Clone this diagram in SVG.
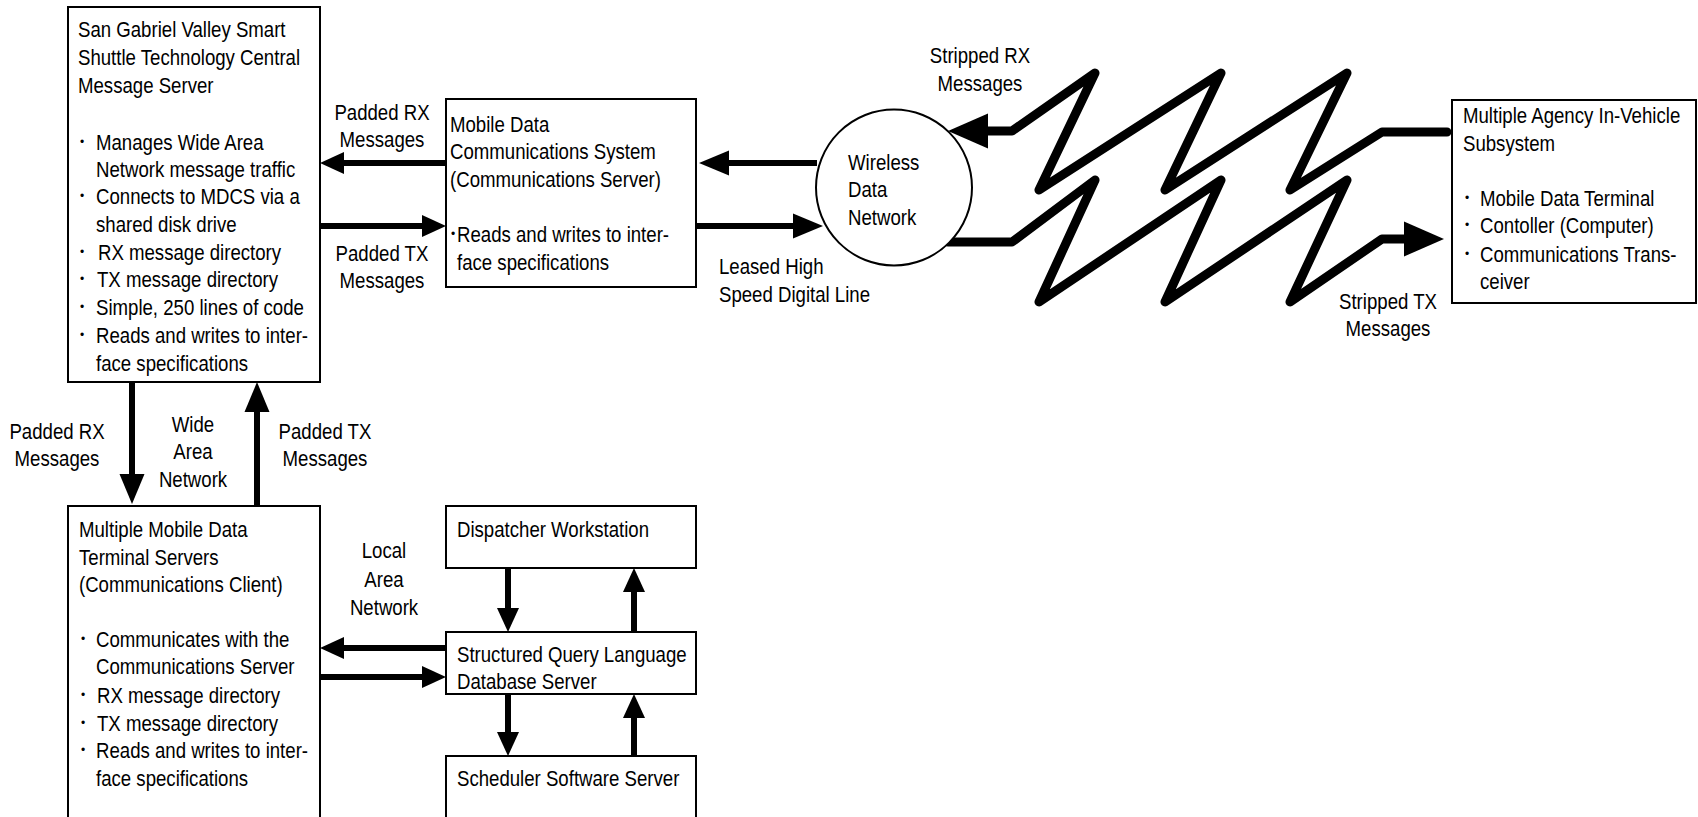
<svg xmlns="http://www.w3.org/2000/svg" width="1698" height="817" viewBox="0 0 1698 817">
<style>
.t{font-family:"Liberation Sans",Arial,sans-serif;font-size:23px;fill:#000;transform-box:fill-box;transform-origin:0% 50%;transform:scaleX(0.81)}
.c{text-anchor:middle;transform-origin:50% 50%}
.b{font-family:"Liberation Sans",Arial,sans-serif;font-size:12px;fill:#000;text-anchor:middle}
.box{fill:#fff;stroke:#000;stroke-width:2}
.ln{fill:none;stroke:#000;stroke-width:6}
.bolt{fill:none;stroke:#000;stroke-width:9;stroke-linejoin:round;stroke-linecap:round}
</style>
<defs>
<marker id="ah" markerUnits="userSpaceOnUse" markerWidth="24" markerHeight="24" refX="0" refY="11" orient="auto" viewBox="0 0 24 22"><path d="M0,0 L24,11 L0,22 z" fill="#000"/></marker>
<marker id="ah2" markerUnits="userSpaceOnUse" markerWidth="30" markerHeight="26" refX="0" refY="12.5" orient="auto" viewBox="0 0 30 25"><path d="M0,0 L30,12.5 L0,25 z" fill="#000"/></marker>
<marker id="big" markerUnits="userSpaceOnUse" markerWidth="40" markerHeight="36" refX="0" refY="17.5" orient="auto" viewBox="0 0 40 35"><path d="M0,0 L40,17.5 L0,35 z" fill="#000"/></marker>
</defs>
<rect width="1698" height="817" fill="#fff"/>
<g id="connectors">
<path class="ln" d="M446,163 H344" marker-end="url(#ah)"/>
<path class="ln" d="M320,226 H422" marker-end="url(#ah)"/>
<path class="ln" d="M817,163 H729" marker-end="url(#ah2)"/>
<path class="ln" d="M696,226 H793" marker-end="url(#ah2)"/>
<path class="ln" d="M132,382 V474" marker-end="url(#ah2)"/>
<path class="ln" d="M257,506 V412" marker-end="url(#ah2)"/>
<path class="ln" d="M446,648 H344" marker-end="url(#ah)"/>
<path class="ln" d="M320,677 H422" marker-end="url(#ah)"/>
<path class="ln" d="M508,568 V608" marker-end="url(#ah)"/>
<path class="ln" d="M634,632 V592" marker-end="url(#ah)"/>
<path class="ln" d="M508,694 V732" marker-end="url(#ah)"/>
<path class="ln" d="M634,756 V718" marker-end="url(#ah)"/>
<path class="bolt" d="M1447,132 H1382 L1290,190 L1347,73 L1165,190 L1221,73 L1039,190 L1095,73 L1012,131 H988" marker-end="url(#big)"/>
<path class="bolt" d="M948,242 H1012 L1095,180 L1039,302 L1221,180 L1165,302 L1347,180 L1290,302 L1382,239 H1404" marker-end="url(#big)"/>
</g>
<g id="labels">
<text class="t c" x="382" y="120">Padded RX</text>
<text class="t c" x="382" y="147">Messages</text>
<text class="t c" x="382" y="261">Padded TX</text>
<text class="t c" x="382" y="288">Messages</text>
<text class="t c" x="980" y="63">Stripped RX</text>
<text class="t c" x="980" y="91">Messages</text>
<text class="t" x="719" y="274">Leased High</text>
<text class="t" x="719" y="302">Speed Digital Line</text>
<text class="t c" x="1388" y="309">Stripped TX</text>
<text class="t c" x="1388" y="336">Messages</text>
<text class="t c" x="57" y="439">Padded RX</text>
<text class="t c" x="57" y="466">Messages</text>
<text class="t c" x="193" y="432">Wide</text>
<text class="t c" x="193" y="459">Area</text>
<text class="t c" x="193" y="487">Network</text>
<text class="t c" x="325" y="439">Padded TX</text>
<text class="t c" x="325" y="466">Messages</text>
<text class="t c" x="384" y="558">Local</text>
<text class="t c" x="384" y="587">Area</text>
<text class="t c" x="384" y="615">Network</text>
</g>
<g id="central-server">
<rect class="box" x="68" y="7" width="252" height="375"/>
<text class="t" x="78" y="37">San Gabriel Valley Smart</text>
<text class="t" x="78" y="65">Shuttle Technology Central</text>
<text class="t" x="78" y="93">Message Server</text>
<text class="b" x="82" y="146">•</text>
<text class="t" x="96" y="150">Manages Wide Area</text>
<text class="t" x="96" y="177">Network message traffic</text>
<text class="b" x="82" y="200">•</text>
<text class="t" x="96" y="204">Connects to MDCS via a</text>
<text class="t" x="96" y="232">shared disk drive</text>
<text class="b" x="82" y="256">•</text>
<text class="t" x="98" y="260">RX message directory</text>
<text class="b" x="82" y="283">•</text>
<text class="t" x="97" y="287">TX message directory</text>
<text class="b" x="82" y="311">•</text>
<text class="t" x="96" y="315">Simple, 250 lines of code</text>
<text class="b" x="82" y="339">•</text>
<text class="t" x="96" y="343">Reads and writes to inter-</text>
<text class="t" x="96" y="371">face specifications</text>
</g>
<g id="mdcs">
<rect class="box" x="446" y="99" width="250" height="188"/>
<text class="t" x="450" y="132">Mobile Data</text>
<text class="t" x="450" y="159">Communications System</text>
<text class="t" x="450" y="187">(Communications Server)</text>
<text class="b" x="453" y="238">•</text>
<text class="t" x="457" y="242">Reads and writes to inter-</text>
<text class="t" x="457" y="270">face specifications</text>
</g>
<g id="wireless">
<circle cx="894" cy="187.5" r="78" fill="#fff" stroke="#000" stroke-width="2"/>
<text class="t" x="848" y="170">Wireless</text>
<text class="t" x="848" y="197">Data</text>
<text class="t" x="848" y="225">Network</text>
</g>
<g id="in-vehicle">
<rect class="box" x="1452" y="100" width="244" height="203"/>
<text class="t" x="1463" y="123">Multiple Agency In-Vehicle</text>
<text class="t" x="1463" y="151">Subsystem</text>
<text class="b" x="1467" y="202">•</text>
<text class="t" x="1480" y="206">Mobile Data Terminal</text>
<text class="b" x="1467" y="229">•</text>
<text class="t" x="1480" y="233">Contoller (Computer)</text>
<text class="b" x="1467" y="258">•</text>
<text class="t" x="1480" y="262">Communications Trans-</text>
<text class="t" x="1480" y="289">ceiver</text>
</g>
<g id="mdt-servers">
<rect class="box" x="68" y="506" width="252" height="330"/>
<text class="t" x="79" y="537">Multiple Mobile Data</text>
<text class="t" x="79" y="565">Terminal Servers</text>
<text class="t" x="79" y="592">(Communications Client)</text>
<text class="b" x="83" y="643">•</text>
<text class="t" x="96" y="647">Communicates with the</text>
<text class="t" x="96" y="674">Communications Server</text>
<text class="b" x="83" y="699">•</text>
<text class="t" x="97" y="703">RX message directory</text>
<text class="b" x="83" y="727">•</text>
<text class="t" x="97" y="731">TX message directory</text>
<text class="b" x="83" y="754">•</text>
<text class="t" x="96" y="758">Reads and writes to inter-</text>
<text class="t" x="96" y="786">face specifications</text>
</g>
<g id="dispatcher">
<rect class="box" x="446" y="506" width="250" height="62"/>
<text class="t" x="457" y="537">Dispatcher Workstation</text>
</g>
<g id="sql-server">
<rect class="box" x="446" y="632" width="250" height="62"/>
<text class="t" x="457" y="662">Structured Query Language</text>
<text class="t" x="457" y="689">Database Server</text>
</g>
<g id="scheduler">
<rect class="box" x="446" y="756" width="250" height="80"/>
<text class="t" x="457" y="786">Scheduler Software Server</text>
</g>
</svg>
